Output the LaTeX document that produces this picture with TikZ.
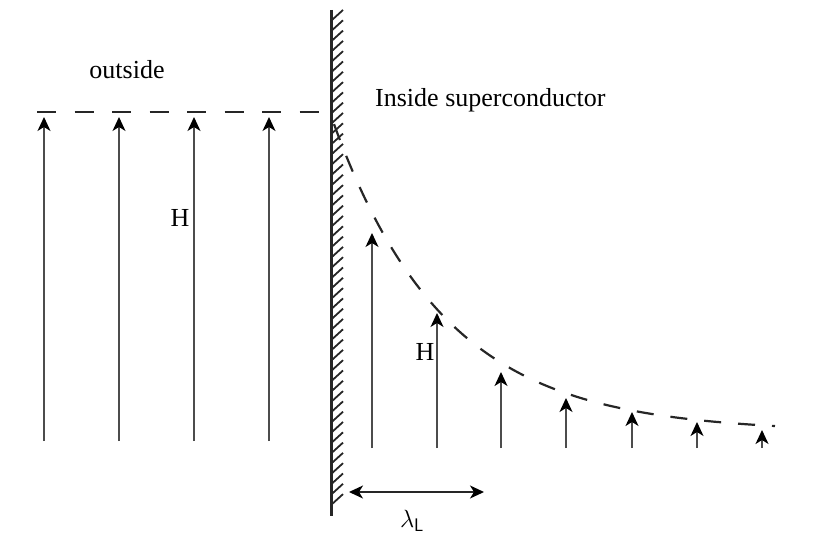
\documentclass[tikz,border=0pt]{standalone}
\usepackage{fontspec}
\setmainfont{Liberation Serif}
\usetikzlibrary{arrows.meta}
\begin{document}
\begin{tikzpicture}[x=1pt,y=-1pt,
  tip/.style={Stealth[length=14pt,width=13pt,inset=4pt,color=black]},
  field/.style={draw=black!70,line width=1.5pt,-{Stealth[length=14pt,width=13pt,inset=4pt,color=black]}},
  bound/.style={draw=black!85,line width=2.4pt,dash pattern=on 19pt off 18.5pt},
  lab/.style={font=\fontsize{26}{29}\selectfont,inner sep=0pt}]
\useasboundingbox (0,0) rectangle (837,540);
% wall
\coordinate (wt) at (331,10);
\coordinate (wb) at (331,516);
\draw[line width=3pt,black!85] (wt) -- (wb);
\foreach \y in {20,30.3,...,512}
  \draw[line width=1.8pt,black!85] (332,\y) -- (343,\y-10);
% outside field
\coordinate (dl) at (37,112);
\coordinate (dr) at (331,112);
\draw[bound] (dl) -- (dr);
\foreach \x in {44,119,194,269} {
  \coordinate (b\x) at (\x,441);
  \coordinate (t\x) at (\x,117);
  \draw[field] (b\x) -- (t\x);
}
% decay curve
\draw[bound,line width=2.2pt,dash pattern=on 17pt off 17pt] plot[domain=334:775,samples=90,smooth] (\x,{432-319*exp(-(\x-330)/112)});
% inside arrows
\foreach \x/\t in {372/233,437/313,501/372,566/398,632/412,697/422,762/430} {
  \coordinate (ib\x) at (\x,448);
  \coordinate (it\x) at (\x,\t);
  \draw[field] (ib\x) -- (it\x);
}
% lambda
\coordinate (la) at (349,492);
\coordinate (lb) at (484,492);
\draw[line width=1.5pt,black!85,{Stealth[length=14pt,width=13pt,inset=4pt,color=black]}-{Stealth[length=14pt,width=13pt,inset=4pt,color=black]}] (la) -- (lb);
\node[lab] (lam) at (412,521) {$\lambda_{\mathsf{L}}$};
% labels
\node[lab] (out) at (127,70) {outside};
\node[lab,anchor=west] (ins) at (375,100) {Inside superconductor};
\node[lab] (h1) at (180,218) {H};
\node[lab] (h2) at (425,352) {H};
\end{tikzpicture}
\end{document}
